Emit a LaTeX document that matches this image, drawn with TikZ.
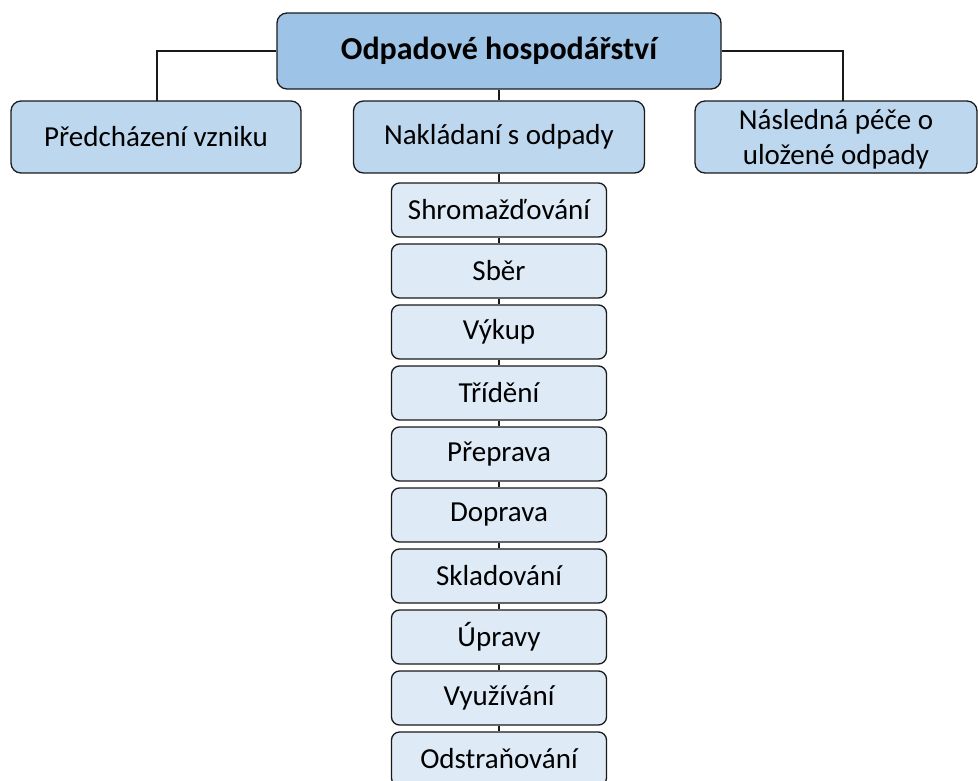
\documentclass[tikz,border=0pt]{standalone}
\usepackage{fontspec}
\setmainfont{Carlito}
\definecolor{topfill}{HTML}{9DC3E6}
\definecolor{midfill}{HTML}{BDD7EE}
\definecolor{subfill}{HTML}{DEEBF7}
\definecolor{edge}{HTML}{1A1A1A}
\begin{document}
\begin{tikzpicture}[x=1pt,y=-1pt,
  topbox/.style={draw=edge,line width=1.3pt,rounded corners=10pt,fill=topfill,minimum width=444pt,minimum height=76pt,inner sep=0pt,font=\fontsize{32}{38}\selectfont\bfseries},
  lvbox/.style={draw=edge,line width=1.3pt,rounded corners=10pt,fill=midfill,minimum height=72pt,inner sep=0pt,align=center,font=\fontsize{29}{35}\selectfont},
  subbox/.style={draw=edge,line width=1.3pt,rounded corners=8pt,fill=subfill,minimum width=215pt,minimum height=54pt,inner sep=0pt,font=\fontsize{29}{35}\selectfont},
  link/.style={draw=edge,line width=1.3pt}]
\useasboundingbox (0,0) rectangle (978,780);
\clip (0,0) rectangle (978,780);
\node[topbox] (top) at (499,51) {Odpadové hospodářství};
\node[lvbox,minimum width=290pt] (pred) at (156,137) {Předcházení vzniku};
\node[lvbox,minimum width=291pt] (nakl) at (499,137) {Nakládaní s odpady};
\node[lvbox,minimum width=282pt,text depth=0pt] (nasl) at (836,137) {Následná péče o\\uložené odpady};
\coordinate (lc) at (157,51);
\coordinate (rc) at (843,51);
\draw[link] (top.west) -- (lc) -- (157,101);
\draw[link] (top.east) -- (rc) -- (843,101);
\draw[link] (top.south) -- (nakl.north);
\foreach \t [count=\i] in {Shromažďování,Sběr,Výkup,Třídění,Přeprava,Doprava,Skladování,Úpravy,Využívání,Odstraňování}{
  \node[subbox] (s\i) at (499,{210+61*(\i-1)}) {\t};
}
\draw[link] (nakl.south) -- (s1.north);
\foreach \i [evaluate=\i as \j using int(\i+1)] in {1,...,9}{
  \draw[link] (s\i.south) -- (s\j.north);
}
\end{tikzpicture}
\end{document}
